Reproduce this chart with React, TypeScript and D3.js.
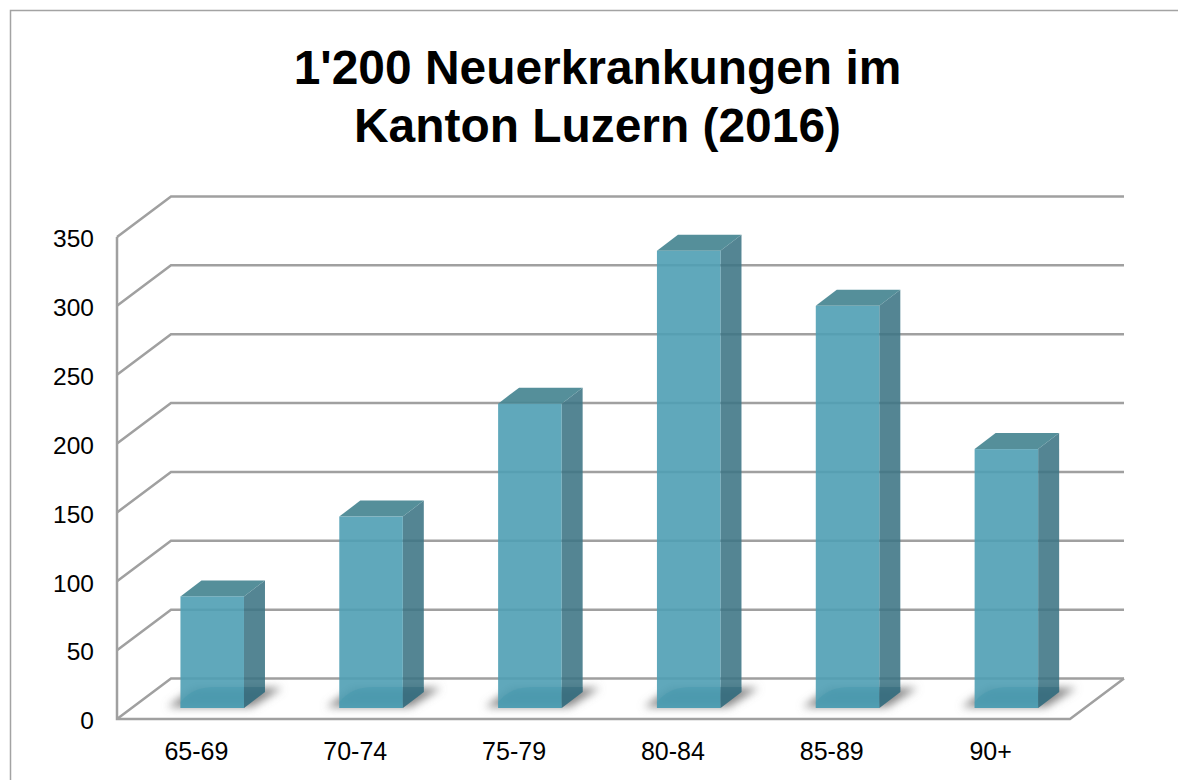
import React, { useRef, useEffect } from "react";
import * as d3 from "d3";

const categories = ["65-69", "70-74", "75-79", "80-84", "85-89", "90+"];
const values = [81, 139, 221, 332, 292, 188];
const yTicks = [0, 50, 100, 150, 200, 250, 300, 350];
const titleLines = ["1'200 Neuerkrankungen im", "Kanton Luzern (2016)"];

const App = () => {
  const svgRef = useRef<SVGSVGElement>(null);

  useEffect(() => {
    const svg = d3.select(svgRef.current);
    svg.selectAll("*").remove(); // Clear previous contents

    const width = 1178;
    const height = 780;
    const font = "'Liberation Sans', Arial, sans-serif";
    const gridColor = "#a0a0a0";

    const left = 117;
    const right = 1070;
    const floorY = 719;
    const topY = 237;
    // offset of the back wall from the front of the box
    const depthX = 54;
    const depthY = -40.5;
    // bars stand a little way into the box
    const barDx = 15.8;
    const barDy = -11;
    const barDepthX = 21;
    const barDepthY = -16;

    const xScale = d3.scaleBand().domain(categories).range([left, right]).paddingInner(0).paddingOuter(0);
    const yScale = d3.scaleLinear().domain([0, 350]).range([floorY, topY]);
    const barWidth = xScale.bandwidth() * 0.4;
    const barX = (c: string) => xScale(c)! + xScale.bandwidth() / 2 - barWidth / 2 + barDx;

    const defs = svg.append("defs");
    defs.append("filter")
      .attr("id", "shadowBlur")
      .attr("x", "-30%").attr("y", "-50%").attr("width", "160%").attr("height", "200%")
      .append("feGaussianBlur")
      .attr("stdDeviation", 4);

    // Page frame
    svg.append("path")
      .attr("d", `M${width},10.5H10.5V${height}`)
      .attr("fill", "none")
      .attr("stroke", "#a3a3a3")
      .attr("stroke-width", 1.5);

    // Title
    svg.append("g")
      .selectAll("text")
      .data(titleLines)
      .enter()
      .append("text")
      .attr("x", 597.5)
      .attr("y", (_, i) => 83.5 + i * 58)
      .attr("text-anchor", "middle")
      .attr("font-family", font)
      .attr("font-weight", "bold")
      .attr("font-size", 47.9)
      .attr("fill", "#000")
      .text(d => d);

    // Gridlines: side wall diagonal + back wall
    const grid = svg.append("g")
      .attr("fill", "none")
      .attr("stroke", gridColor)
      .attr("stroke-width", 2.5);

    grid.selectAll("path")
      .data(yTicks)
      .enter()
      .append("path")
      .attr("d", d => {
        const y = yScale(d);
        return `M${left},${y}L${left + depthX},${y + depthY}H${right + depthX}`;
      });

    // Floor front edge, right edge and front vertical axis
    grid.append("path")
      .attr("stroke-linejoin", "miter")
      .attr("d", `M${left},${topY}V${floorY}H${right}L${right + depthX},${floorY + depthY}`);

    // Shadows on the floor
    svg.append("g")
      .selectAll("path")
      .data(categories)
      .enter()
      .append("path")
      .attr("d", c => {
        const x = barX(c);
        const y = floorY + barDy;
        return `M${x - 13},${y - 1}L${x + 14},${y - 20}H${x + barWidth + 38}L${x + barWidth + 8},${y - 1}Z`;
      })
      .attr("fill", "#7a7a7a")
      .attr("fill-opacity", 0.9)
      .attr("filter", "url(#shadowBlur)");

    // Bars
    const bars = svg.append("g")
      .selectAll("g")
      .data(categories.map((c, i) => ({ c, v: values[i] })))
      .enter()
      .append("g");

    const barTop = (v: number) => yScale(v) + barDy;
    const barBase = floorY + barDy;

    // side face
    bars.append("path")
      .attr("d", d => {
        const x = barX(d.c) + barWidth;
        return `M${x},${barTop(d.v)}l${barDepthX},${barDepthY}V${barBase + barDepthY}l${-barDepthX},${-barDepthY}Z`;
      })
      .attr("fill", "#3c7484")
      .attr("fill-opacity", 0.88);

    // top face
    bars.append("path")
      .attr("d", d => {
        const x = barX(d.c);
        return `M${x},${barTop(d.v)}l${barDepthX},${barDepthY}h${barWidth}l${-barDepthX},${-barDepthY}Z`;
      })
      .attr("fill", "#468591")
      .attr("fill-opacity", 0.92);

    // front face
    bars.append("rect")
      .attr("x", d => barX(d.c))
      .attr("y", d => barTop(d.v))
      .attr("width", barWidth)
      .attr("height", d => barBase - barTop(d.v))
      .attr("fill", "#4f9fb4")
      .attr("fill-opacity", 0.9);

    // reflection at the foot of the bar
    bars.append("path")
      .attr("d", d => {
        const x = barX(d.c);
        return `M${x},${barBase - 6}Q${x + 12},${barBase - 21} ${x + 34},${barBase - 21}H${x + barWidth}V${barBase}H${x}Z`;
      })
      .attr("fill", "#3b94ad")
      .attr("fill-opacity", 0.3);

    bars.append("path")
      .attr("d", d => {
        const x = barX(d.c) + barWidth;
        return `M${x},${barBase}l${barDepthX},${barDepthY}V${barBase - 21}H${x}Z`;
      })
      .attr("fill", "#2a6577")
      .attr("fill-opacity", 0.4);

    // Axes
    const yAxis = svg.append("g")
      .attr("transform", `translate(${left - 23},2)`)
      .call(d3.axisLeft(yScale).tickValues(yTicks).tickSize(0).tickPadding(0));
    yAxis.select(".domain").remove();
    yAxis.selectAll("text")
      .attr("font-family", font)
      .attr("font-size", 24.5)
      .attr("fill", "#000");

    const xAxis = svg.append("g")
      .attr("transform", `translate(0,${floorY + 23})`)
      .call(d3.axisBottom(xScale).tickSize(0).tickPadding(0));
    xAxis.select(".domain").remove();
    xAxis.selectAll("text")
      .attr("font-family", font)
      .attr("font-size", 25)
      .attr("fill", "#000");
  }, []);

  return (
    <svg
      ref={svgRef}
      width={1178}
      height={780}
      style={{ position: "absolute", left: 0, top: 0, background: "#fff" }}
    ></svg>
  );
};

export default App;
